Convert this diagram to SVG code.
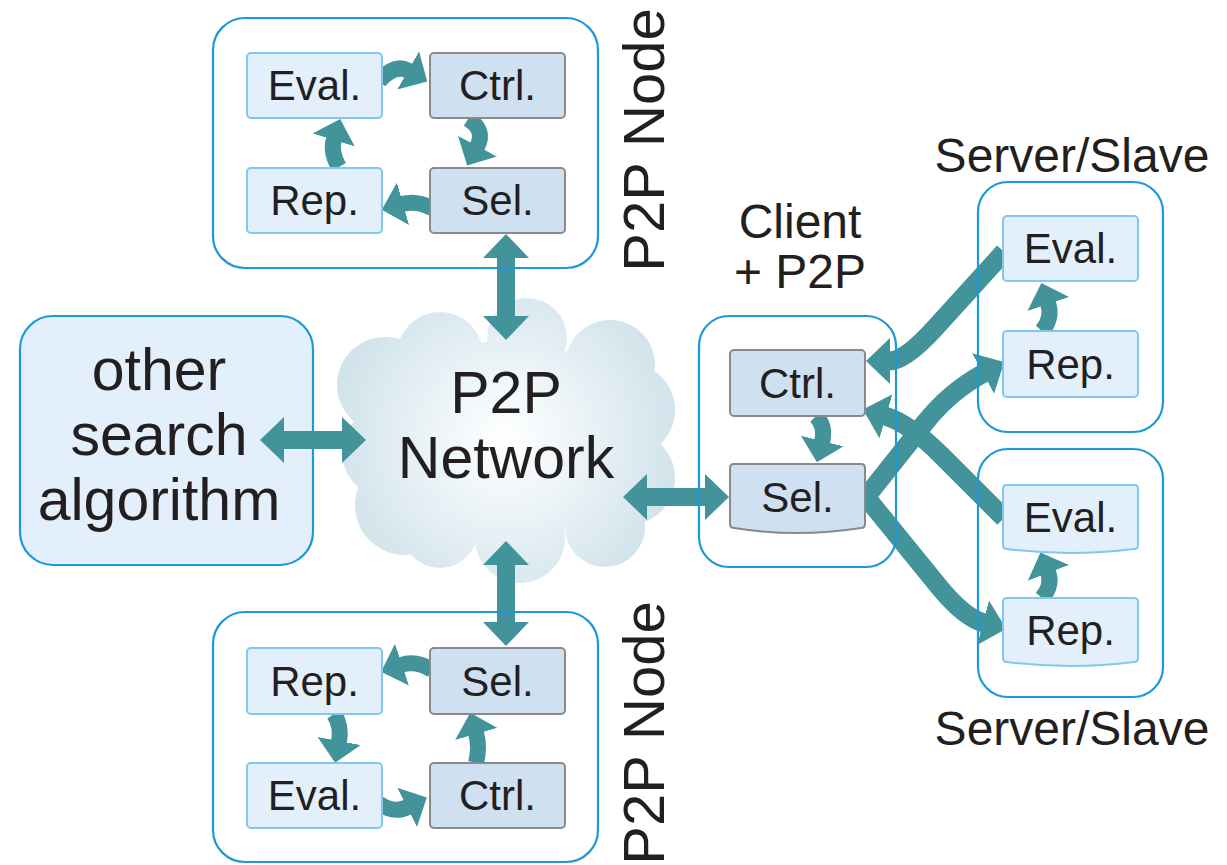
<svg xmlns="http://www.w3.org/2000/svg" width="1227" height="865" viewBox="0 0 1227 865">
<style>
text{font-family:"Liberation Sans",Arial,sans-serif;fill:#231f20;text-anchor:middle}
.lbl{font-size:42px}
.big{font-size:59px}
.mid{font-size:48px}
.cont{fill:none;stroke:#1d98d8;stroke-width:2.2}
.lb{fill:#e3effb;stroke:#80c8f0;stroke-width:2}
.db{fill:#cfe0f0;stroke:#8a8a8a;stroke-width:2}
.c{fill:none;stroke:#43939b;stroke-width:16}
.cb{fill:none;stroke:#43939b;stroke-width:18}
.cx{fill:none;stroke:#43939b;stroke-width:19;stroke-linejoin:round}
</style>
<defs>
<radialGradient id="cg" gradientUnits="userSpaceOnUse" cx="506" cy="440" r="190">
<stop offset="0" stop-color="#ffffff"/>
<stop offset="0.35" stop-color="#eef5f8"/>
<stop offset="1" stop-color="#cde0e9"/>
</radialGradient>
<marker id="hs" markerUnits="userSpaceOnUse" viewBox="0 0 22 44" markerWidth="22" markerHeight="44" refX="1" refY="22" orient="auto-start-reverse"><path d="M0 0L22 22L0 44Z" fill="#43939b"/></marker>
<marker id="hb" markerUnits="userSpaceOnUse" viewBox="0 0 24 46" markerWidth="24" markerHeight="46" refX="1" refY="23" orient="auto-start-reverse"><path d="M0 0L24 23L0 46Z" fill="#43939b"/></marker>
</defs>
<rect width="1227" height="865" fill="#ffffff"/>

<g id="cloud" fill="url(#cg)">
<circle cx="385" cy="385" r="48"/>
<circle cx="388" cy="452" r="46"/>
<circle cx="405" cy="505" r="50"/>
<circle cx="440" cy="530" r="38"/>
<circle cx="520" cy="538" r="45"/>
<circle cx="605" cy="527" r="40"/>
<circle cx="628" cy="478" r="47"/>
<circle cx="628" cy="410" r="47"/>
<circle cx="610" cy="365" r="45"/>
<circle cx="527" cy="338" r="40"/>
<circle cx="440" cy="355" r="43"/>
<ellipse cx="508" cy="440" rx="125" ry="100"/>
<text class="big" x="506" y="413">P2P</text>
<text class="big" x="506" y="478">Network</text>
</g>

<g id="other-search">
<rect x="20" y="316" width="293" height="249" rx="33" fill="#e3effb" stroke="#1d98d8" stroke-width="2.2"/>
<text class="big" x="159" y="390">other</text>
<text class="big" x="159" y="455">search</text>
<text class="big" x="159" y="520">algorithm</text>
</g>

<g id="connectors">
<!-- top P2P node cycle -->
<path class="c" d="M379 81 Q395 63 409 71" marker-end="url(#hs)"/>
<path class="c" d="M468 119 Q486 130 477 147" marker-end="url(#hs)"/>
<path class="c" d="M432 208 Q416 200 402 204" marker-end="url(#hs)"/>
<path class="c" d="M339 167 Q330 152 334 139" marker-end="url(#hs)"/>
<!-- bottom P2P node cycle -->
<path class="c" d="M432 670 Q416 660 401 665" marker-end="url(#hs)"/>
<path class="c" d="M334 714 Q342 726 339 742" marker-end="url(#hs)"/>
<path class="c" d="M378 803 Q394 814 408 807" marker-end="url(#hs)"/>
<path class="c" d="M476 763 Q480 747 476 733" marker-end="url(#hs)"/>
<!-- client -->
<path class="c" d="M816 416 Q826 426 822 442" marker-end="url(#hs)"/>
<!-- servers -->
<path class="c" d="M1042 331 Q1053 318 1048 303" marker-end="url(#hs)"/>
<path class="c" d="M1042 598 Q1053 585 1048 572" marker-end="url(#hs)"/>
<!-- double arrows to cloud -->
<path class="cb" d="M506 257 V317" marker-start="url(#hb)" marker-end="url(#hb)"/>
<path class="cb" d="M506 564 V623" marker-start="url(#hb)" marker-end="url(#hb)"/>
<path class="cb" d="M283 440 H343" marker-start="url(#hb)" marker-end="url(#hb)"/>
<path class="cb" d="M646 497 H706" marker-start="url(#hb)" marker-end="url(#hb)"/>
<!-- client <-> servers -->
<path class="cx" d="M1004 252 L935 328 Q905 361 889 361" marker-end="url(#hb)"/>
<path class="cx" d="M866 497 L924 424 Q949 392 984 373" marker-end="url(#hb)"/>
<path class="cx" d="M1004 518 L942 456 Q909 423 885 416" marker-end="url(#hb)"/>
<path class="cx" d="M866 497 L940 588 Q965 618 984 623" marker-end="url(#hb)"/>
</g>

<g id="p2p-node-top">
<rect class="cont" x="213" y="18" width="385" height="250" rx="32"/>
<rect class="lb" x="247" y="53" width="135" height="65" rx="4"/>
<text class="lbl" x="314.5" y="100">Eval.</text>
<rect class="db" x="430" y="53" width="135" height="65" rx="4"/>
<text class="lbl" x="497.5" y="100">Ctrl.</text>
<rect class="lb" x="247" y="168" width="135" height="65" rx="4"/>
<text class="lbl" x="314.5" y="215">Rep.</text>
<rect class="db" x="430" y="168" width="135" height="65" rx="4"/>
<text class="lbl" x="497.5" y="215">Sel.</text>
<text class="big" transform="translate(664 140) rotate(-90)" style="font-size:58px">P2P Node</text>
</g>

<g id="p2p-node-bottom">
<rect class="cont" x="213" y="612" width="385" height="250" rx="32"/>
<rect class="lb" x="247" y="648" width="135" height="66" rx="4"/>
<text class="lbl" x="314.5" y="696">Rep.</text>
<rect class="db" x="430" y="648" width="135" height="66" rx="4"/>
<text class="lbl" x="497.5" y="696">Sel.</text>
<rect class="lb" x="247" y="763" width="135" height="65" rx="4"/>
<text class="lbl" x="314.5" y="810">Eval.</text>
<rect class="db" x="430" y="763" width="135" height="65" rx="4"/>
<text class="lbl" x="497.5" y="810">Ctrl.</text>
<text class="big" transform="translate(664 733) rotate(-90)" style="font-size:58px">P2P Node</text>
</g>

<g id="client">
<text class="mid" x="800" y="238">Client</text>
<text class="mid" x="800" y="288">+ P2P</text>
<rect class="cont" x="699" y="316" width="197" height="251" rx="30"/>
<rect class="db" x="730" y="350" width="135" height="66" rx="4"/>
<text class="lbl" x="797.5" y="398">Ctrl.</text>
<path class="db" d="M734 464 H861 Q865 464 865 468 V524 Q865 528 861 528 Q797 538 734 528 Q730 528 730 524 V468 Q730 464 734 464 Z"/>
<text class="lbl" x="797.5" y="512">Sel.</text>
</g>

<g id="server-1">
<text class="mid" x="1072" y="172">Server/Slave</text>
<rect class="cont" x="978" y="182" width="185" height="250" rx="30"/>
<rect class="lb" x="1003" y="216" width="135" height="65" rx="4"/>
<text class="lbl" x="1070.5" y="263">Eval.</text>
<rect class="lb" x="1003" y="331" width="135" height="66" rx="4"/>
<text class="lbl" x="1070.5" y="379">Rep.</text>
</g>

<g id="server-2">
<rect class="cont" x="978" y="449" width="185" height="248" rx="30"/>
<path class="lb" d="M1007 485 H1134 Q1138 485 1138 489 V545 Q1138 549 1134 549 Q1070 557 1007 549 Q1003 549 1003 545 V489 Q1003 485 1007 485 Z"/>
<text class="lbl" x="1070.5" y="532">Eval.</text>
<path class="lb" d="M1007 598 H1134 Q1138 598 1138 602 V658 Q1138 662 1134 662 Q1070 670 1007 662 Q1003 662 1003 658 V602 Q1003 598 1007 598 Z"/>
<text class="lbl" x="1070.5" y="645">Rep.</text>
<text class="mid" x="1072" y="745">Server/Slave</text>
</g>
</svg>
